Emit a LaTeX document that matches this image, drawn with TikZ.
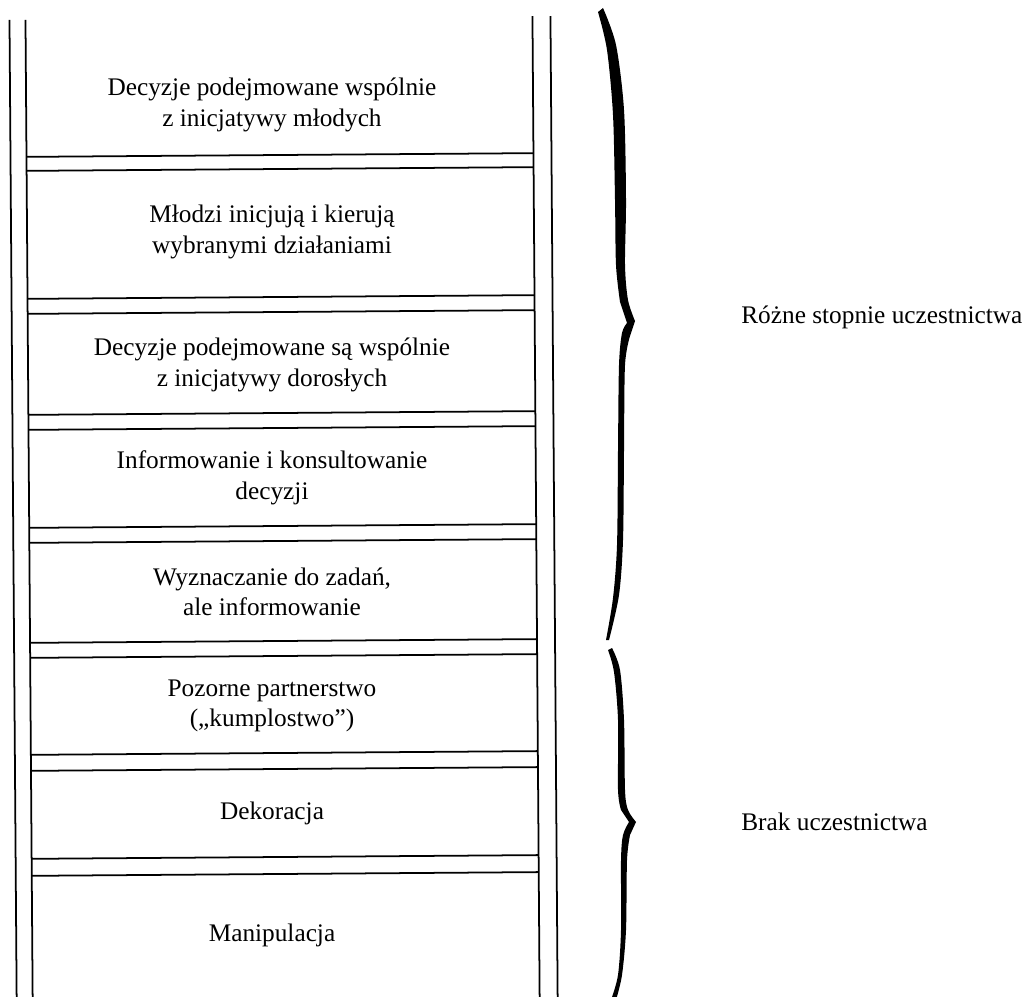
\documentclass[tikz,border=0pt]{standalone}
\usepackage{fontspec}
\setmainfont{Liberation Serif}
\usepackage{tikz}

\begin{document}
\begin{tikzpicture}[x=0.02cm,y=-0.02cm,
  rail/.style={line width=1pt},
  szczebel/.style={line width=1pt},
  opis/.style={align=center,font=\fontsize{14.4}{17.3}\selectfont,inner sep=0pt}]
\clip (0,0) rectangle (1026,996);
\fill[white] (0,0) rectangle (1026,996);

% ladder (the scan is slightly tilted)
\begin{scope}[rotate around={0.42:(280,500)}]
\draw[rail] (13,18) -- (13,1020);
\draw[rail] (29,18) -- (29,1020);
\draw[rail] (536,18) -- (536,1020);
\draw[rail] (554,18) -- (554,1020);
\foreach \ya/\yb in {155/169,297/312,413/428,526/541,641/656,753/769,857/874}{
  \draw[szczebel] (29,\ya) -- (536,\ya);
  \draw[szczebel] (29,\yb) -- (536,\yb);
}
\end{scope}

\node[opis] (s1) at (272,105) {Decyzje podejmowane wspólnie\\z inicjatywy młodych};
\node[opis] (s2) at (272,232) {Młodzi inicjują i kierują\\wybranymi działaniami};
\node[opis] (s3) at (272,365) {Decyzje podejmowane są wspólnie\\z inicjatywy dorosłych};
\node[opis] (s4) at (272,478) {Informowanie i konsultowanie\\decyzji};
\node[opis] (s5) at (272,592) {Wyznaczanie do zadań,\\ale informowanie};
\node[opis] (s6) at (272,706) {Pozorne partnerstwo\\(„kumplostwo”)};
\node[opis] (s7) at (272,813) {Dekoracja};
\node[opis] (s8) at (272,935) {Manipulacja};

% braces
\fill plot[smooth,tension=0.5] coordinates {(603,8) (616,45) (624,110) (626,200) (625,265) (628,300) (635,321)}
  -- plot[smooth,tension=0.5] coordinates {(630,336) (625,365) (624,450) (623,540) (619,595) (609,640)}
  -- plot[smooth,tension=0.5] coordinates {(606,640) (613,598) (617,545) (618,450) (619,365) (622,333) (627,323)}
  -- plot[smooth,tension=0.5] coordinates {(620,302) (616,265) (615,200) (613,115) (607,50) (598,12)} -- cycle;
\fill plot[smooth,tension=0.5] coordinates {(612,648) (620,670) (624,720) (625,790) (628,810) (636,822)}
  -- plot[smooth,tension=0.5] coordinates {(630,835) (627,860) (626,930) (622,975) (616,1000)}
  -- plot[smooth,tension=0.5] coordinates {(611,1000) (618,975) (621,930) (621,860) (623,835) (629,822)}
  -- plot[smooth,tension=0.5] coordinates {(621,810) (618,790) (618,720) (614,672) (608,650)} -- cycle;

\node[opis,anchor=west] (udzial) at (741,317) {Różne stopnie uczestnictwa};
\node[opis,anchor=west] (brak) at (741,822) {Brak uczestnictwa};
\end{tikzpicture}
\end{document}
